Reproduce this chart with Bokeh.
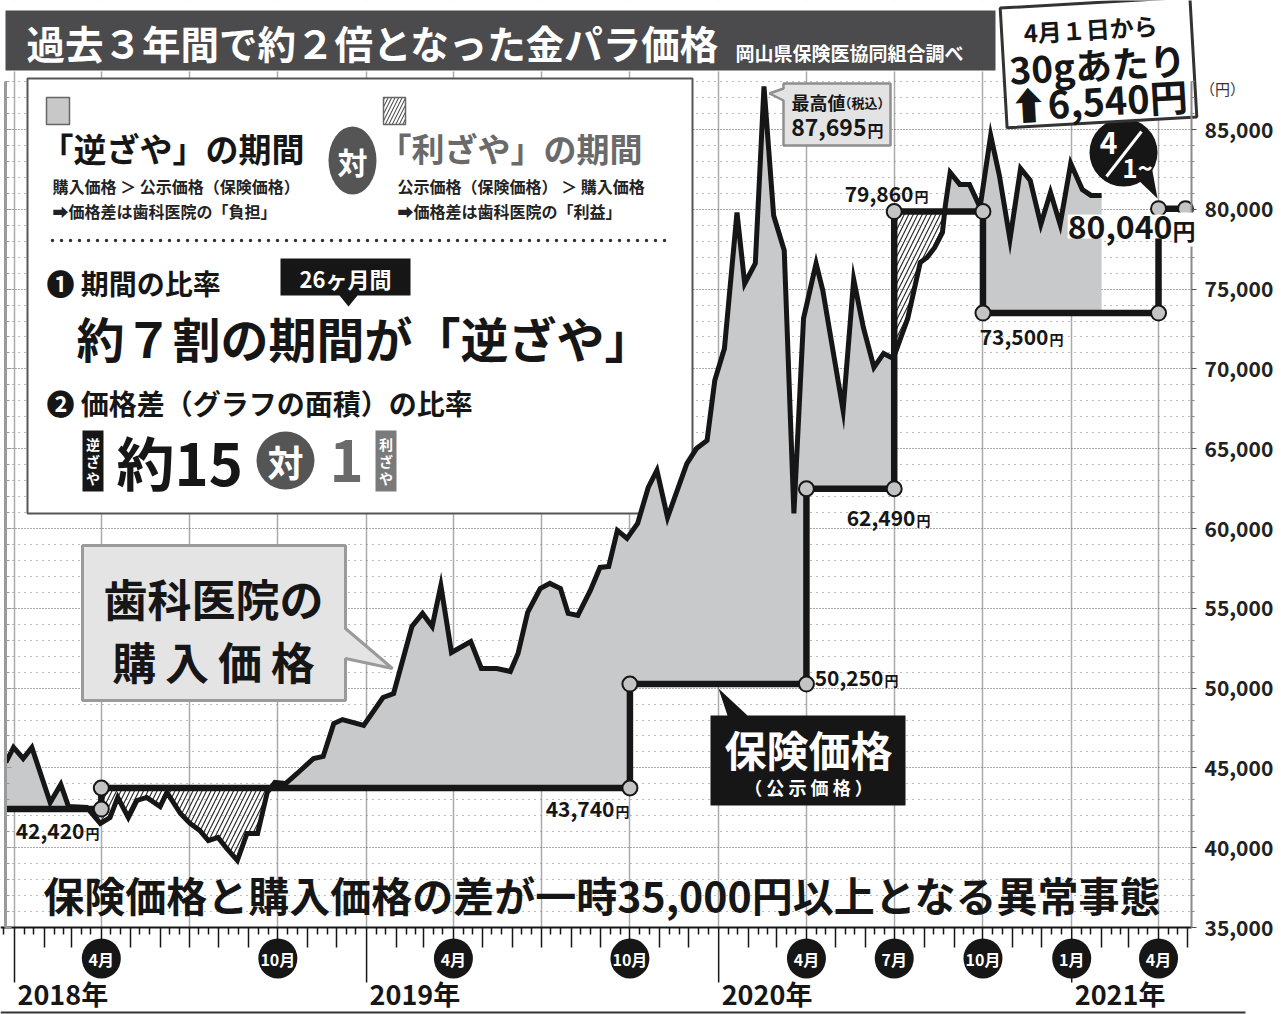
import numpy as np
import pandas as pd
from bokeh.plotting import figure
from bokeh.models import (Range1d, LinearAxis, FixedTicker, NumeralTickFormatter, Label,
                          CustomJSTickFormatter)
from bokeh.embed import file_html
from bokeh.resources import INLINE

# ---------------- data ----------------
purchase_dates = [
    "2017-12-23", "2017-12-31", "2018-01-10", "2018-01-19", "2018-02-07", "2018-02-18", "2018-02-26",
    "2018-03-17", "2018-03-31", "2018-04-10", "2018-04-18", "2018-04-29", "2018-05-08", "2018-05-18",
    "2018-06-01", "2018-06-08", "2018-06-22", "2018-07-02", "2018-07-12", "2018-07-21", "2018-07-31",
    "2018-08-09", "2018-08-20", "2018-08-30", "2018-09-10", "2018-09-20", "2018-09-28", "2018-10-09",
    "2018-10-21", "2018-11-07", "2018-11-17", "2018-11-28", "2018-12-07", "2018-12-29", "2019-01-18",
    "2019-01-29", "2019-02-17", "2019-02-28", "2019-03-10", "2019-03-19", "2019-03-30", "2019-04-19",
    "2019-04-30", "2019-05-16", "2019-05-30", "2019-06-07", "2019-06-17", "2019-06-30", "2019-07-10",
    "2019-07-21", "2019-07-29", "2019-08-08", "2019-08-21", "2019-08-31", "2019-09-09", "2019-09-18",
    "2019-09-28", "2019-10-09", "2019-10-20", "2019-10-29", "2019-11-09", "2019-11-29", "2019-12-09",
    "2019-12-20", "2019-12-28", "2020-01-07", "2020-01-20", "2020-01-28", "2020-02-08", "2020-02-17",
    "2020-02-27", "2020-03-09", "2020-03-19", "2020-03-29", "2020-04-11", "2020-04-18", "2020-04-29",
    "2020-05-09", "2020-05-20", "2020-05-30", "2020-06-10", "2020-06-20", "2020-06-30", "2020-07-15",
    "2020-07-28", "2020-08-04", "2020-08-12", "2020-08-20", "2020-08-23", "2020-08-28", "2020-09-07",
    "2020-09-17", "2020-09-28", "2020-10-09", "2020-10-18", "2020-10-29", "2020-11-09", "2020-11-19",
    "2020-11-30", "2020-12-10", "2020-12-20", "2020-12-31", "2021-01-12", "2021-01-21", "2021-02-01",
]
purchase_prices = [
    45340, 46280, 45590, 46280, 42830, 43960, 42580,
    42520, 41520, 41890, 43150, 41890, 42960, 43150,
    42580, 43460, 42140, 41520, 41080, 40450, 40640,
    39950, 39200, 40890, 40890, 43460, 44090, 44020,
    44650, 45590, 45720, 47780, 48030, 47660, 49410,
    49660, 53860, 54680, 53860, 56430, 52230, 52920,
    51230, 51230, 51040, 52170, 54740, 56240, 56560,
    56240, 54680, 54550, 56120, 57560, 57620, 59880,
    59380, 60320, 62570, 63640, 60690, 64070, 65010,
    65520, 69280, 71280, 79800, 75350, 76610, 87695,
    79610, 77420, 60940, 73160, 76610, 74910, 70970,
    67400, 75600, 72600, 70090, 70970, 70650, 73160,
    76670, 76980, 77610, 78550, 80240, 82310, 81560,
    81560, 80120, 84630, 82120, 78110, 82560, 81810,
    79050, 81060, 79050, 82870, 81240, 80870, 80870,
]
insurance_starts = ["2017-12-23", "2018-04-01", "2019-10-01", "2020-04-01", "2020-07-01", "2020-10-01", "2021-04-01"]
insurance_prices = [42420, 43740, 50250, 62490, 79860, 73500, 80040]
insurance_end = "2021-04-29"

y_major = [35000, 40000, 45000, 50000, 55000, 60000, 65000, 70000, 75000, 80000, 85000]
month_marks = [("2018-04-01", "4月"), ("2018-10-01", "10月"), ("2019-04-01", "4月"), ("2019-10-01", "10月"),
               ("2020-04-01", "4月"), ("2020-07-01", "7月"), ("2020-10-01", "10月"), ("2021-01-01", "1月"),
               ("2021-04-01", "4月")]
year_marks = [("2018-01-01", "2018年"), ("2019-01-01", "2019年"), ("2020-01-01", "2020年"), ("2021-01-01", "2021年")]

# ---------------- geometry helpers ----------------
W, H = 1283, 1014
AX_L, AX_R, AX_B = 5, 1191, 927
T0 = pd.Timestamp("2018-01-01")
X0PX, PX_PER_DAY = 14.0, 0.9646
Y0PX, PX_PER_K = 927.0, 15.96
FONT = "Noto Sans CJK JP"
BLACK = "#161616"
GRAY = "#c8c9cb"
DAY_MS = 86400000.0


def to_ms(s):
    return pd.Timestamp(s).timestamp() * 1000.0


def DX(px):
    return to_ms(T0) + (px - X0PX) / PX_PER_DAY * DAY_MS


def DY(py):
    return 35000.0 + (Y0PX - py) / PX_PER_K * 1000.0


p = figure(width=W, height=H, x_axis_type="datetime", title=None,
           x_range=Range1d(DX(0), DX(W)), y_range=Range1d(DY(H), DY(0)),
           y_axis_location="right", toolbar_location=None, output_backend="svg",
           min_border_left=0, min_border_right=0, min_border_top=0, min_border_bottom=0,
           outline_line_color=None, background_fill_color="white", border_fill_color="white")

# ---- axes & grid ----
y_minor = [v for v in range(35000, 88001, 1000) if v % 5000]
yticker = FixedTicker(ticks=y_major, minor_ticks=y_minor)
yax = p.yaxis[0]
yax.fixed_location = DX(AX_R)
yax.ticker = yticker
yax.bounds = (35000, 88000)
yax.formatter = NumeralTickFormatter(format="0,0")
yax.major_label_text_font = FONT
yax.major_label_text_font_size = "21px"
yax.major_label_text_font_style = "bold"
yax.major_label_text_color = "#222222"
yax.major_label_standoff = 8
yax.major_tick_out = 5
yax.major_tick_in = 0
yax.minor_tick_out = 3
yax.minor_tick_in = 0
yax.axis_line_color = "#8a8a8a"
yax.axis_line_width = 2
yax.major_tick_line_color = "#555555"
yax.minor_tick_line_color = "#8a8a8a"

month_ticks = [to_ms(d) for d in pd.date_range("2018-02-01", "2021-05-01", freq="MS") if d.month != 1]
third_ticks = []
for d in pd.date_range("2017-12-01", "2021-04-01", freq="MS"):
    third_ticks += [to_ms(d + pd.Timedelta(days=10)), to_ms(d + pd.Timedelta(days=20))]
xax = p.xaxis[0]
xax.fixed_location = 35000
xax.bounds = (DX(0), DX(AX_R))
xax.ticker = FixedTicker(ticks=month_ticks, minor_ticks=third_ticks)
xax.formatter = CustomJSTickFormatter(code="return ''")
xax.major_label_text_font_size = "0px"
xax.major_label_standoff = 0
xax.major_tick_out = 20
xax.major_tick_in = 0
xax.minor_tick_out = 7
xax.minor_tick_in = 0
xax.axis_line_color = BLACK
xax.axis_line_width = 2
xax.major_tick_line_color = BLACK
xax.major_tick_line_width = 1.5
xax.minor_tick_line_color = BLACK
xax.minor_tick_line_width = 1.5

left_ax = LinearAxis(ticker=yticker, formatter=CustomJSTickFormatter(code="return ''"),
                     fixed_location=DX(AX_L), bounds=(35000, 88000),
                     major_label_text_font_size="0px", major_label_standoff=0,
                     major_tick_out=0, major_tick_in=6, minor_tick_out=0, minor_tick_in=4,
                     axis_line_color="#9a9a9a", axis_line_width=3,
                     major_tick_line_color="#9a9a9a", minor_tick_line_color="#9a9a9a")
p.add_layout(left_ax, "left")

yg = p.ygrid[0]
yg.ticker = yticker
yg.grid_line_color = "#555555"
yg.grid_line_dash = "1 2"
yg.grid_line_width = 1
yg.minor_grid_line_color = "#7a7a7a"
yg.minor_grid_line_dash = "1 5"
yg.minor_grid_line_width = 1
xg = p.xgrid[0]
xg.ticker = FixedTicker(ticks=[to_ms(d) for d in pd.date_range("2018-01-01", "2021-04-01", freq="QS")])
xg.grid_line_color = "#ababab"
xg.grid_line_width = 1.5


# ---- helpers for text / shapes ----
def labd(text, x, y, size, color=BLACK, align="left", baseline="middle", bold=True, angle=0.0, **kw):
    lb = Label(x=x, y=y, text=text, text_font=FONT, text_font_size=f"{size}px",
               text_font_style="bold" if bold else "normal", text_color=color,
               text_align=align, text_baseline=baseline, angle=angle, **kw)
    p.add_layout(lb)
    return lb


def lab(text, px, py, size, **kw):
    return labd(text, DX(px), DY(py), size, **kw)


def box(x0, y0, x1, y1, **kw):
    p.quad(left=DX(x0), right=DX(x1), top=DY(y0), bottom=DY(y1), **kw)


def poly(pts, **kw):
    p.patch([DX(a) for a, b in pts], [DY(b) for a, b in pts], **kw)


# ---- white margins outside the chart area (hide grid there) ----
box(-5, -5, W + 5, 71, fill_color="white", line_color=None)
box(-5, AX_B, W + 5, H + 5, fill_color="white", line_color=None)
box(AX_R, -5, W + 5, H + 5, fill_color="white", line_color=None)
box(-5, -5, AX_L, H + 5, fill_color="white", line_color=None)

# ---- title bar ----
box(5, 10, 995, 70, fill_color="#4b4b4d", line_color=None)
lab("過去３年間で約２倍となった金パラ価格", 26, 41, 38.5, color="white")
lab("岡山県保険医協同組合調べ", 735, 52, 19, color="white")

# ---- big explanation box (under the data) ----
box(27, 78, 692, 513, fill_color="white", line_color="#555555", line_width=2)

# ---- fills between purchase and insurance ----
px_ms = np.array([to_ms(d) for d in purchase_dates])
pv = np.array(purchase_prices, dtype=float)
ins_x = np.array([to_ms(d) for d in insurance_starts] + [to_ms(insurance_end)])
ins_v = np.array(insurance_prices, dtype=float)


def level(x):
    i = int(np.searchsorted(ins_x, x, side="right") - 1)
    return float(ins_v[min(max(i, 0), len(ins_v) - 1)])


brk = [b for b in ins_x[1:-1] if px_ms[0] < b < px_ms[-1]]
allx = sorted(set(px_ms.tolist()) | set(brk))
fx, fp, fi = [], [], []
for k, x in enumerate(allx):
    pval = float(np.interp(x, px_ms, pv))
    if x in brk:
        fx.append(x); fp.append(pval); fi.append(level(x - 1))
    fx.append(x); fp.append(pval); fi.append(level(x))
    if k + 1 < len(allx):
        x2 = allx[k + 1]
        p2 = float(np.interp(x2, px_ms, pv))
        L = level(x)
        if (pval - L) * (p2 - L) < 0:
            xc = x + (L - pval) * (x2 - x) / (p2 - pval)
            fx.append(xc); fp.append(L); fi.append(L)
fx = np.array(fx); fp = np.array(fp); fi = np.array(fi)
p.varea(x=fx, y1=fi, y2=np.maximum(fp, fi), fill_color=GRAY)
p.varea(x=fx, y1=np.minimum(fp, fi), y2=fi, fill_color=None, hatch_pattern="/",
        hatch_color="#222222", hatch_weight=1.1, hatch_scale=9)

# ---- lines ----
p.line(px_ms, pv, line_width=5, color=BLACK, line_join="miter")
p.step(x=ins_x, y=np.append(ins_v, ins_v[-1]), mode="after", line_width=6.5, color=BLACK)
cx, cy = [], []
for i in range(1, len(ins_v)):
    cx += [ins_x[i], ins_x[i]]
    cy += [ins_v[i - 1], ins_v[i]]
cx.append(ins_x[-1]); cy.append(ins_v[-1])
p.scatter(cx, cy, size=15, fill_color="#c4c4c4", line_color=BLACK, line_width=2)

# ---- legend items inside big box ----
box(46, 97, 69, 124, fill_color="#c8c8c8", line_color="#666666", line_width=1.5)
box(383, 97, 405, 124, fill_color="white", line_color="#666666", line_width=1.5,
    hatch_pattern="/", hatch_color="#333333", hatch_scale=7, hatch_weight=1)
lab("「逆ざや」の期間", 40, 147, 33)
lab("「利ざや」の期間", 378, 147, 33, color="#6a6a6a")
p.ellipse(x=DX(352), y=DY(160), width=48, height=68, width_units="screen", height_units="screen",
          fill_color="#555555", line_color=None)
lab("対", 352, 160, 30, color="white", align="center")
lab("購入価格 ＞ 公示価格（保険価格）", 52, 185, 16, color="#222222")
lab("➡価格差は歯科医院の「負担」", 52, 210, 16, color="#222222")
lab("公示価格（保険価格） ＞ 購入価格", 397, 185, 16, color="#222222")
lab("➡価格差は歯科医院の「利益」", 397, 210, 16, color="#222222")
p.line([DX(52), DX(672)], [DY(240), DY(240)], line_width=3.5, line_dash="0 9", line_cap="round", color="#333333")

lab("❶ 期間の比率", 46, 282, 28)
poly([(280, 258), (410, 258), (410, 295), (357, 295), (348, 306), (339, 295), (280, 295)],
     fill_color=BLACK, line_color=None)
lab("26ヶ月間", 345, 277, 22, color="white", align="center")
lab("約７割の期間が「逆ざや」", 76, 336, 48)
lab("❷ 価格差（グラフの面積）の比率", 46, 402, 28)

box(82, 430, 103, 491, fill_color=BLACK, line_color=None)
for j, ch in enumerate("逆ざや"):
    lab(ch, 92.5, 443 + 17 * j, 14, color="white", align="center")
lab("約15", 116, 460, 58)
p.scatter([DX(285)], [DY(460)], size=58, fill_color="#555555", line_color=None)
lab("対", 285, 460, 36, color="white", align="center")
lab("1", 329, 460, 58, color="#6a6a6a")
box(375, 430, 396, 491, fill_color="#7a7a7a", line_color=None)
for j, ch in enumerate("利ざや"):
    lab(ch, 385.5, 443 + 17 * j, 14, color="white", align="center")

# ---- callout: purchase price ----
poly([(82, 545), (345, 545), (345, 628), (392, 668), (345, 658), (345, 700), (82, 700)],
     fill_color="#e4e4e4", line_color="#9a9a9a", line_width=3)
lab("歯科医院の", 213, 597, 44, align="center")
lab("購\u2009入\u2009価\u2009格", 213, 660, 44, align="center")

# ---- callout: insurance price ----
poly([(710, 715), (727, 715), (718, 688), (747, 715), (905, 715), (905, 805), (710, 805)],
     fill_color=BLACK, line_color=None)
lab("保険価格", 808, 748, 42, color="white", align="center")
lab("（ 公 示 価 格 ）", 808, 786, 18, color="white", align="center")

# ---- step value labels ----
step_label_pos = [(84, 830), (614, 808), (883, 677), (915, 517), (913, 193), (1048, 336)]
for v, (ax_, ay_) in zip(insurance_prices[:-1], step_label_pos):
    lab(f"{v:,}", ax_, ay_, 21, align="right")
    lab("円", ax_ + 1, ay_ + 2, 14)
lab(f"{insurance_prices[-1]:,}", 1172, 226, 32, align="right", background_fill_color="white")
lab("円", 1172, 229, 23, background_fill_color="white")

# ---- max value callout ----
poly([(783, 83), (890, 83), (890, 145), (783, 145), (783, 100), (769, 93), (783, 88)],
     fill_color="#e3e3e3", line_color="#8f8f8f", line_width=2.5)
lab("最高値", 791, 101, 18)
lab("（税込）", 838, 102, 13)
lab(f"{max(purchase_prices):,}", 866, 127, 23, align="right")
lab("円", 867, 129, 16)

# ---- 4/1 bubble ----
poly([(1134, 176), (1150, 160), (1157, 198)], fill_color=BLACK, line_color=None)
p.scatter([DX(1123)], [DY(152)], size=68, fill_color=BLACK, line_color=None)
p.line([DX(1106), DX(1141)], [DY(176), DY(131)], line_width=3, color="white")
lab("4", 1108, 142, 30, color="white", align="center")
lab("1~", 1137, 166, 26, color="white", align="center")

# ---- top-right rotated box ----
ang = np.deg2rad(3.3)
ccx, ccy, hw, hh = 1098, 62, 95, 60
corners = []
for dx_, dy_ in [(-hw, -hh), (hw, -hh), (hw, hh), (-hw, hh)]:
    corners.append((ccx + dx_ * np.cos(ang) + dy_ * np.sin(ang), ccy - dx_ * np.sin(ang) + dy_ * np.cos(ang)))
poly(corners, fill_color="white", line_color="#333333", line_width=3)
lab("4月１日から", 1090, 28, 24, align="center", angle=ang)
lab("30gあたり", 1097, 63, 37, align="center", angle=ang)
lab("⬆6,540円", 1098, 99, 38, align="center", angle=ang)
lab("（円）", 1222, 88, 15, align="center", bold=False, color="#333333")

# ---- bottom message ----
lab("保険価格と購入価格の差が一時35,000円以上となる異常事態", 602, 893, 41, align="center")

# ---- year ticks, month badges and years below the axis ----
yr_ms = [to_ms(d) for d, t in year_marks]
p.segment(x0=yr_ms, y0=[DY(AX_B)] * len(yr_ms), x1=yr_ms, y1=[DY(982)] * len(yr_ms),
          line_width=1.5, line_color=BLACK)
mo_ms = [to_ms(d) for d, t in month_marks]
p.ellipse(x=mo_ms, y=[DY(958)] * len(mo_ms), width=39, height=40, width_units="screen",
          height_units="screen", fill_color=BLACK, line_color=None)
for d, t in month_marks:
    labd(t, to_ms(d), DY(958), 16, color="white", align="center")
for d, t in year_marks:
    labd(t, to_ms(d) + 3 / PX_PER_DAY * DAY_MS, DY(993), 27)
p.line([DX(0), DX(1245)], [DY(1012), DY(1012)], line_width=2, color="#333333")

open("out.html", "w").write(file_html(p, INLINE))
